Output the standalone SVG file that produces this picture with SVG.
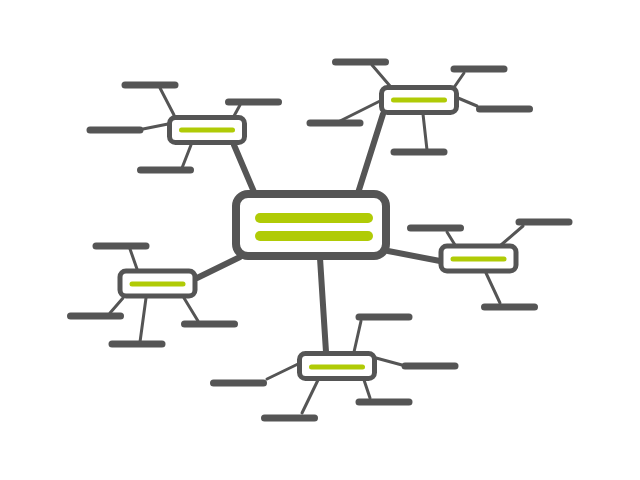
<svg xmlns="http://www.w3.org/2000/svg" width="640" height="480" viewBox="0 0 640 480">
<style>
.main{stroke:#555555;stroke-width:6;stroke-linecap:round;fill:none}
.sub{stroke:#555555;stroke-width:3;stroke-linecap:round;fill:none}
.leaf{fill:#555555}
.node{fill:#ffffff;stroke:#555555;stroke-width:5}
.center{fill:#ffffff;stroke:#555555;stroke-width:8}
.bar{stroke:#b0cb06;stroke-width:5;stroke-linecap:round}
.bigbar{stroke:#b0cb06;stroke-width:10;stroke-linecap:round}
</style>
<rect width="640" height="480" fill="#ffffff"/>
<g id="connectors">
<line class="main" x1="234" y1="145" x2="254" y2="192"/>
<line class="main" x1="383" y1="114" x2="358" y2="193"/>
<line class="main" x1="197" y1="278" x2="240" y2="257"/>
<line class="main" x1="388" y1="251" x2="440" y2="261"/>
<line class="main" x1="320" y1="258" x2="326" y2="352"/>
<line class="sub" x1="160" y1="88" x2="174" y2="115"/>
<line class="sub" x1="240" y1="105" x2="234" y2="116"/>
<line class="sub" x1="143" y1="129" x2="168" y2="124"/>
<line class="sub" x1="182" y1="168" x2="191" y2="145"/>
<line class="sub" x1="372" y1="65" x2="390" y2="86"/>
<line class="sub" x1="464" y1="73" x2="455" y2="86"/>
<line class="sub" x1="458" y1="98" x2="477" y2="106"/>
<line class="sub" x1="340" y1="121" x2="380" y2="101"/>
<line class="sub" x1="423" y1="114" x2="427" y2="150"/>
<line class="sub" x1="130" y1="249" x2="137" y2="269"/>
<line class="sub" x1="110" y1="313" x2="123" y2="298"/>
<line class="sub" x1="140" y1="342" x2="146" y2="298"/>
<line class="sub" x1="198" y1="321" x2="184" y2="298"/>
<line class="sub" x1="447" y1="232" x2="455" y2="245"/>
<line class="sub" x1="523" y1="226" x2="501" y2="245"/>
<line class="sub" x1="500" y1="303" x2="486" y2="273"/>
<line class="sub" x1="361" y1="321" x2="354" y2="352"/>
<line class="sub" x1="402" y1="365" x2="376" y2="358"/>
<line class="sub" x1="370" y1="398" x2="364" y2="380"/>
<line class="sub" x1="267" y1="379" x2="298" y2="364"/>
<line class="sub" x1="302" y1="413" x2="318" y2="380"/>
</g>
<g id="center">
<rect class="center" x="236" y="194" width="150" height="62" rx="12"/>
<line class="bigbar" x1="260" y1="218" x2="368" y2="218"/>
<line class="bigbar" x1="260" y1="236" x2="368" y2="236"/>
</g>
<g id="node-tl">
<rect class="node" x="169.5" y="117.5" width="75" height="25" rx="6"/>
<line class="bar" x1="181.5" y1="130" x2="232.5" y2="130"/>
</g>
<g id="node-tr">
<rect class="node" x="381.5" y="87.5" width="75" height="25" rx="6"/>
<line class="bar" x1="393.5" y1="100" x2="444.5" y2="100"/>
</g>
<g id="node-l">
<rect class="node" x="120" y="271" width="75" height="25" rx="6"/>
<line class="bar" x1="132" y1="284" x2="183" y2="284"/>
</g>
<g id="node-r">
<rect class="node" x="441" y="246" width="75" height="25" rx="6"/>
<line class="bar" x1="453" y1="259" x2="504" y2="259"/>
</g>
<g id="node-b">
<rect class="node" x="299.5" y="353.5" width="75" height="25" rx="6"/>
<line class="bar" x1="311.5" y1="367" x2="362.5" y2="367"/>
</g>
<g id="leaves">
<rect class="leaf" x="121.5" y="81.5" width="57" height="7" rx="3.5"/>
<rect class="leaf" x="225" y="98.5" width="57" height="7" rx="3.5"/>
<rect class="leaf" x="86.5" y="126.5" width="57" height="7" rx="3.5"/>
<rect class="leaf" x="137" y="166.5" width="57" height="7" rx="3.5"/>
<rect class="leaf" x="332" y="58.5" width="57" height="7" rx="3.5"/>
<rect class="leaf" x="450.5" y="65.5" width="57" height="7" rx="3.5"/>
<rect class="leaf" x="476" y="105.5" width="57" height="7" rx="3.5"/>
<rect class="leaf" x="306.5" y="119.5" width="57" height="7" rx="3.5"/>
<rect class="leaf" x="390.5" y="148.5" width="57" height="7" rx="3.5"/>
<rect class="leaf" x="92.5" y="242.5" width="57" height="7" rx="3.5"/>
<rect class="leaf" x="67" y="312.5" width="57" height="7" rx="3.5"/>
<rect class="leaf" x="108.5" y="340.5" width="57" height="7" rx="3.5"/>
<rect class="leaf" x="181" y="320.5" width="57" height="7" rx="3.5"/>
<rect class="leaf" x="407" y="224.5" width="57" height="7" rx="3.5"/>
<rect class="leaf" x="515.5" y="218.5" width="57" height="7" rx="3.5"/>
<rect class="leaf" x="481" y="303.5" width="57" height="7" rx="3.5"/>
<rect class="leaf" x="355.5" y="313.5" width="57" height="7" rx="3.5"/>
<rect class="leaf" x="401.5" y="362.5" width="57" height="7" rx="3.5"/>
<rect class="leaf" x="355.5" y="398.5" width="57" height="7" rx="3.5"/>
<rect class="leaf" x="210" y="379.5" width="57" height="7" rx="3.5"/>
<rect class="leaf" x="261" y="414.5" width="57" height="7" rx="3.5"/>
</g>
</svg>
